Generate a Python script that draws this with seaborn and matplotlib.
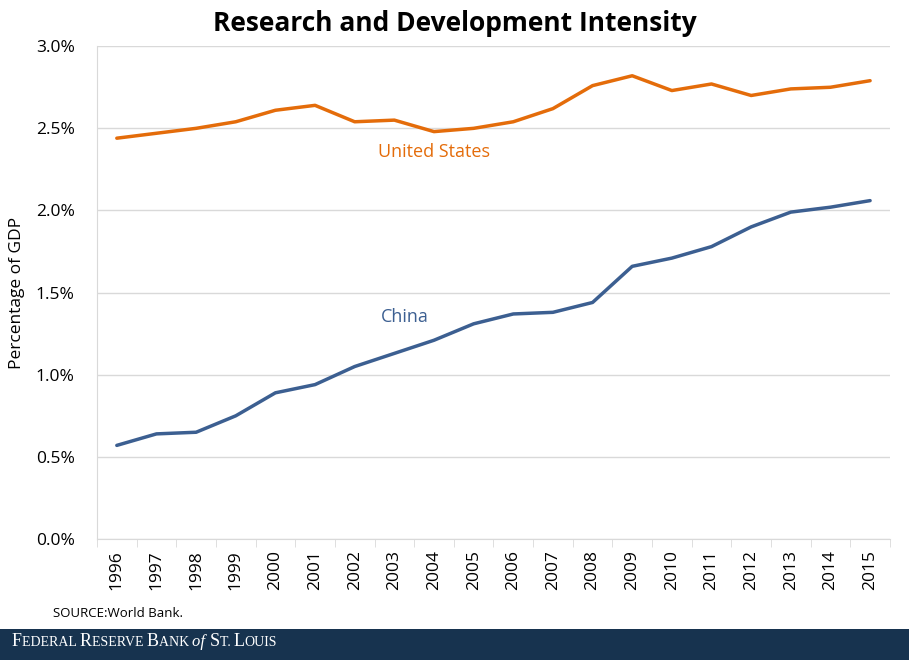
import seaborn as sns
import matplotlib.pyplot as plt
import pandas as pd
from matplotlib.ticker import FuncFormatter, FixedLocator

years = [str(y) for y in range(1996, 2016)]
us = [2.44, 2.47, 2.50, 2.54, 2.61, 2.64, 2.54, 2.55, 2.48, 2.50,
      2.54, 2.62, 2.76, 2.82, 2.73, 2.77, 2.70, 2.74, 2.75, 2.79]
china = [0.57, 0.64, 0.65, 0.75, 0.89, 0.94, 1.05, 1.13, 1.21, 1.31,
         1.37, 1.38, 1.44, 1.66, 1.71, 1.78, 1.90, 1.99, 2.02, 2.06]

df = pd.DataFrame({"Year": years * 2,
                   "Value": us + china,
                   "Country": ["United States"] * 20 + ["China"] * 20})

sns.set_style("white")
plt.rcParams["font.family"] = ["Open Sans", "DejaVu Sans"]
plt.rcParams["text.color"] = "black"
plt.rcParams["xtick.color"] = "black"
plt.rcParams["ytick.color"] = "black"
plt.rcParams["axes.labelcolor"] = "black"

colors = {"United States": "#E46C0A", "China": "#3C5F91"}

fig = plt.figure(figsize=(9.09, 6.60), dpi=100)
ax = fig.add_axes([0.1067, 0.1833, 0.8723, 0.7467])
sns.lineplot(data=df, x="Year", y="Value", hue="Country", palette=colors,
             linewidth=2.5, ax=ax, legend=False, sort=False)

ax.set_xlim(-0.5, 19.5)
ax.set_ylim(0, 3.0)
ax.set_yticks([0, 0.5, 1.0, 1.5, 2.0, 2.5, 3.0])
ax.yaxis.set_major_formatter(FuncFormatter(lambda v, p: f"{v:.1f}%"))
ax.grid(axis="y", color="#d9d9d9", linewidth=1)
ax.set_axisbelow(True)
for s in ["top", "right"]:
    ax.spines[s].set_visible(False)
ax.spines["left"].set_color("#d9d9d9")
ax.spines["bottom"].set_color("#d9d9d9")
ax.tick_params(axis="y", length=0, labelsize=12.5, pad=16)
ax.tick_params(axis="x", length=0, labelsize=12.5, rotation=90, pad=8)
ax.xaxis.set_minor_locator(FixedLocator([i - 0.5 for i in range(21)]))
ax.tick_params(axis="x", which="minor", length=6, color="#d9d9d9", bottom=True)
ax.set_xlabel("")
ax.set_ylabel("Percentage of GDP", fontsize=12.5, labelpad=8)

ax.text(8.0, 2.355, "United States", color=colors["United States"],
        fontsize=13, ha="center", va="center")
ax.text(7.27, 1.35, "China", color=colors["China"],
        fontsize=13, ha="center", va="center")

fig.text(0.5, 0.965, "Research and Development Intensity", ha="center",
         va="center", fontsize=19, fontweight="bold")
fig.text(0.058, 0.07, "SOURCE:World Bank.", fontsize=9.5, va="center")

band = fig.add_axes([0, 0, 1, 0.047])
band.set_facecolor("#17334f")
band.set_xticks([])
band.set_yticks([])
for s in band.spines.values():
    s.set_visible(False)

pieces = [("F", 13, "normal"), ("EDERAL ", 10, "normal"), ("R", 13, "normal"),
          ("ESERVE ", 10, "normal"), ("B", 13, "normal"), ("ANK ", 10, "normal"),
          ("of ", 12, "italic"), ("S", 13, "normal"), ("T. ", 10, "normal"),
          ("L", 13, "normal"), ("OUIS", 10, "normal")]
fig.canvas.draw()
renderer = fig.canvas.get_renderer()
x = 0.013
for txt, size, style in pieces:
    t = fig.text(x, 0.021, txt, fontsize=size, style=style, color="white",
                 family="Liberation Serif", va="baseline")
    bb = t.get_window_extent(renderer=renderer)
    x += bb.width / fig.bbox.width

fig.savefig("out.png", dpi=100)
